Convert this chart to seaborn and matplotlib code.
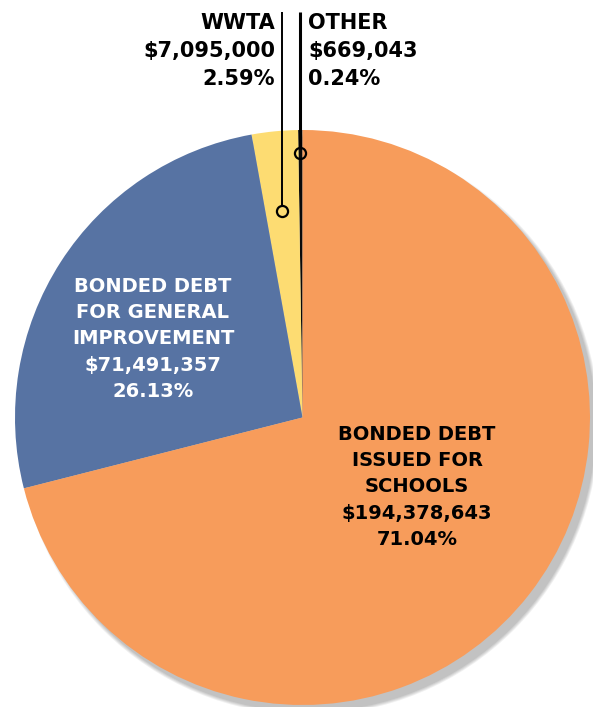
import numpy as np
import matplotlib
matplotlib.use("Agg")
import matplotlib.pyplot as plt
import seaborn as sns
from matplotlib.patches import Circle

# data, in pie order (counterclockwise from 12 o'clock)
categories = ["OTHER", "WWTA", "BONDED DEBT\nFOR GENERAL\nIMPROVEMENT", "BONDED DEBT\nISSUED FOR\nSCHOOLS"]
amounts = [669043, 7095000, 71491357, 194378643]
amount_labels = ["$669,043", "$7,095,000", "$71,491,357", "$194,378,643"]
pct_labels = ["0.24%", "2.59%", "26.13%", "71.04%"]
colors = ["#0a0a0a", "#FDDC72", "#5773A3", "#F79C5B"]

sns.set_theme(style="white")
plt.rcParams['font.family'] = ['DejaVu Sans']

W, H = 593, 707
fig = plt.figure(figsize=(W / 100, H / 100), dpi=100)
ax = fig.add_axes([0, 0, 1, 1])

cx, cy, R = 302.5, H - 417.5, 287.5

# soft drop shadow
for i, a in enumerate([0.25, 0.35, 0.5, 1.0]):
    ax.add_patch(Circle((cx + 6, cy - 7), R + 3 - i, color="#c2c2c2",
                        alpha=a, lw=0, zorder=0))

wedges, _ = ax.pie(amounts, colors=colors, startangle=90, counterclock=True,
                   center=(cx, cy), radius=R,
                   wedgeprops=dict(linewidth=0))
for w in wedges:
    w.set_zorder(1)

# inside labels
ax.text(153, H - 339, f"{categories[2]}\n{amount_labels[2]}\n{pct_labels[2]}",
        ha="center", va="center", color="white", fontsize=14, linespacing=1.47,
        fontweight="bold", zorder=3)
ax.text(417, H - 487, f"{categories[3]}\n{amount_labels[3]}\n{pct_labels[3]}",
        ha="center", va="center", color="black", fontsize=14, linespacing=1.47,
        fontweight="bold", zorder=3)

# leader lines for the small slices
anchor_frac = [0.92, 0.72]
line_w = [2.2, 1.4]
top_y = H - 12
for i in range(2):
    w = wedges[i]
    mid = np.deg2rad((w.theta1 + w.theta2) / 2)
    px = cx + anchor_frac[i] * R * np.cos(mid)
    py = cy + anchor_frac[i] * R * np.sin(mid)
    ax.plot([px, px], [py + 4, top_y], color="black", lw=line_w[i], zorder=4,
            solid_capstyle="butt")
    ax.plot(px, py, marker="o", ms=8, mfc="none", mec="black", mew=1.6, zorder=5)

ax.text(275, H - 51, f"{categories[1]}\n{amount_labels[1]}\n{pct_labels[1]}",
        ha="right", va="center", color="black", fontsize=15, linespacing=1.5,
        fontweight="bold", zorder=3, multialignment="right")
ax.text(308, H - 51, f"{categories[0]}\n{amount_labels[0]}\n{pct_labels[0]}",
        ha="left", va="center", color="black", fontsize=15, linespacing=1.5,
        fontweight="bold", zorder=3, multialignment="left")

ax.set_xlim(0, W)
ax.set_ylim(0, H)
ax.set_aspect("auto")
ax.axis("off")

fig.savefig("out.png", dpi=100)
